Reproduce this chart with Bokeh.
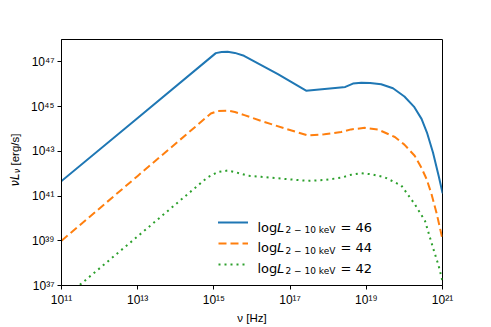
import math
from bokeh.plotting import figure
from bokeh.layouts import row
from bokeh.models import (FixedTicker, CustomJSTickFormatter, Legend, LegendItem,
                          Label, Range1d)
from bokeh.embed import file_html
from bokeh.resources import INLINE

# ---------------- data (log10 nu [Hz], log10 nuL_nu [erg/s]) ----------------
lognu_46 = [11.0, 13.0, 15.05, 15.2, 15.36, 15.55, 15.79, 16.68, 17.42, 18.39, 18.45,
            18.65, 18.87, 19.1, 19.39, 19.7, 20.0, 20.25, 20.45, 20.6, 20.75, 20.9, 21.0]
logL_46 = [41.67, 44.49, 47.39, 47.44, 47.45, 47.40, 47.27, 46.45, 45.71, 45.86, 45.88,
           46.03, 46.07, 46.06, 46.0, 45.82, 45.45, 45.0, 44.45, 43.8, 42.95, 41.9, 41.15]

lognu_44 = [11.0, 13.0, 14.92, 15.1, 15.36, 15.55, 15.8, 16.24, 16.9, 17.47, 17.9, 18.34,
            18.6, 18.96, 19.3, 19.75, 20.0, 20.27, 20.45, 20.58, 20.71, 20.85, 21.0]
logL_44 = [39.0, 41.9, 44.69, 44.80, 44.82, 44.76, 44.62, 44.36, 44.0, 43.71, 43.76, 43.86,
           43.98, 44.05, 43.98, 43.64, 43.3, 42.8, 42.25, 41.77, 41.1, 40.2, 39.07]

lognu_42 = [11.0, 13.0, 14.83, 15.1, 15.36, 15.6, 15.89, 16.24, 16.9, 17.47, 17.9, 18.34,
            18.6, 18.87, 19.15, 19.48, 19.92, 20.27, 20.54, 20.75, 20.89, 21.0]
logL_42 = [36.34, 39.2, 41.83, 42.07, 42.14, 42.05, 41.91, 41.86, 41.76, 41.68, 41.72, 41.82,
           41.95, 42.02, 41.97, 41.84, 41.47, 40.64, 39.89, 38.69, 37.93, 37.2]

x_ticks = [1e11, 1e13, 1e15, 1e17, 1e19, 1e21]
y_ticks = [1e37, 1e39, 1e41, 1e43, 1e45, 1e47]
series_labels = ["46", "44", "42"]
x_title = "\u03bd [Hz]"

colors = ["#1f77b4", "#ff7f0e", "#2ca02c"]
dashes = ["solid", "8 4", "2 4"]

# ---------------- geometry (page pixels) ----------------
W, H = 491, 327
YLAB_W = 24          # strip holding the y-axis title
PW, PH = W - YLAB_W, H
FX, FY = 61, 285     # frame bottom-left in page pixels
FR, FT = 442, 39     # frame right / top

p = figure(width=PW, height=PH, x_axis_type="log", y_axis_type="log",
           x_range=Range1d(1e11, 1e21), y_range=Range1d(1e37, 1e48),
           output_backend="svg", toolbar_location=None,
           min_border_left=FX - YLAB_W, min_border_right=W - FR,
           min_border_top=FT, min_border_bottom=PH - FY)
p.background_fill_color = "white"
p.border_fill_color = "white"
p.outline_line_color = "black"
p.outline_line_width = 1
p.grid.visible = False

sup = "const s={'0':'\u2070','1':'\u00b9','2':'\u00b2','3':'\u00b3','4':'\u2074','5':'\u2075','6':'\u2076','7':'\u2077','8':'\u2078','9':'\u2079','-':'\u207b'};" \
      "const e=Math.round(Math.log10(tick));return '10'+String(e).split('').map(c=>s[c]).join('');"

for ax, ticks in ((p.xaxis[0], x_ticks), (p.yaxis[0], y_ticks)):
    ax.ticker = FixedTicker(ticks=ticks, minor_ticks=[])
    ax.formatter = CustomJSTickFormatter(code=sup)
    ax.major_tick_out = 4
    ax.major_tick_in = 0
    ax.minor_tick_out = 0
    ax.minor_tick_in = 0
    ax.axis_line_color = "black"
    ax.major_tick_line_color = "black"
    ax.major_label_text_font = "Liberation Sans"
    ax.major_label_text_font_size = "12px"
    ax.major_label_text_color = "black"
    ax.major_label_standoff = 3

xa = p.xaxis[0]
xa.axis_label = x_title
xa.axis_label_text_font = "Liberation Sans"
xa.axis_label_text_font_size = "11.5px"
xa.axis_label_text_font_style = "normal"
xa.axis_label_text_color = "black"
xa.axis_label_standoff = 2

renderers = []
for lx, ly, c, d in ((lognu_46, logL_46, colors[0], dashes[0]),
                     (lognu_44, logL_44, colors[1], dashes[1]),
                     (lognu_42, logL_42, colors[2], dashes[2])):
    xs = [10 ** v for v in lx]
    ys = [10 ** v for v in ly]
    r = p.line(xs, ys, line_color=c, line_width=2, line_dash=d,
               line_cap="butt" if d != "solid" else "round", line_join="round")
    renderers.append(r)

legend = Legend(items=[LegendItem(label=" ", renderers=[r]) for r in renderers],
                location=(157, 11), glyph_width=30, glyph_height=20, label_height=20,
                label_width=0, spacing=1, padding=0, margin=0,
                border_line_alpha=0, background_fill_alpha=0, label_text_font_size="1px")
p.add_layout(legend)


def lab(fig, text, sx, sy, font="DejaVu Sans", size="13px", style="normal", angle=0.0):
    fig.add_layout(Label(x=sx, y=sy, x_units="screen", y_units="screen", text=text,
                         text_font=font, text_font_size=size, text_font_style=style,
                         text_color="black", text_baseline="alphabetic", text_align="left",
                         angle=angle))

# legend texts, positioned relative to the frame's bottom-left corner
row_y = [226.5, 247.0, 267.5]
for val, yb in zip(series_labels, row_y):
    lab(p, "log", 257 - FX, FY - yb)
    lab(p, "L", 276.6 - FX, FY - yb, style="italic")
    lab(p, "2 \u2212 10 keV", 285 - FX, FY - yb - 3, size="9px")
    lab(p, "= " + val, 340 - FX, FY - yb)

# y-axis title strip: page x from 0 to YLAB_W, full height
ys_fig = figure(width=YLAB_W, height=H, x_range=Range1d(0, YLAB_W), y_range=Range1d(0, H),
                x_axis_location=None, y_axis_location=None, output_backend="svg",
                toolbar_location=None, min_border=0)
ys_fig.outline_line_color = None
ys_fig.grid.visible = False
ys_fig.background_fill_color = "white"
ys_fig.border_fill_color = "white"

ang = math.pi / 2
lab(ys_fig, "\u03bdL", 14, H - 186, size="11.5px", style="italic", angle=ang)
lab(ys_fig, "\u03bd", 17, H - 172.8, size="8px", style="italic", angle=ang)
lab(ys_fig, "[erg/s]", 14, H - 165, font="Liberation Sans", size="11.5px", angle=ang)

for f in (p, ys_fig):
    if "frame_align" in f.properties():
        f.frame_align = False

layout = row(ys_fig, p, spacing=0)
open("out.html", "w").write(file_html(layout, INLINE))
